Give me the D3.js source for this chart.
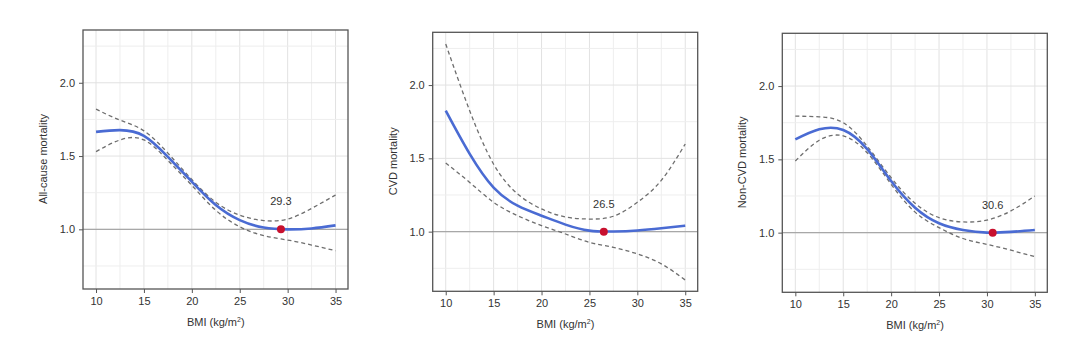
<!DOCTYPE html>
<html><head><meta charset="utf-8">
<script src="https://cdn.jsdelivr.net/npm/d3@7"></script>
<style>body{margin:0;background:#fff;} svg{display:block;}</style>
</head><body>
<svg id="c" width="1080" height="358"></svg>
<script>
const bmi = [10,12.5,15,17.5,20,22.5,25,27.5,30,32.5,35];
const xTicks = [10,15,20,25,30,35];
const yTicks = [1.0,1.5,2.0];
const yTickLabels = ["1.0","1.5","2.0"];
const titles = ["All-cause mortality","CVD mortality","Non-CVD mortality"];
const nadirs = [29.3, 26.5, 30.6];
const nadirLabels = ["29.3","26.5","30.6"];

const allCauseHR    = [1.665,1.677,1.638,1.495,1.325,1.166,1.063,1.012,1.0,1.006,1.027];
const allCauseUpper = [1.82,1.745,1.672,1.52,1.34,1.185,1.097,1.06,1.07,1.143,1.234];
const allCauseLower = [1.53,1.61,1.61,1.47,1.30,1.13,1.018,0.957,0.927,0.893,0.854];

const cvdHR    = [1.825,1.53,1.30,1.177,1.109,1.048,1.007,1.001,1.008,1.023,1.041];
const cvdUpper = [2.28,1.825,1.46,1.257,1.155,1.10,1.086,1.105,1.20,1.35,1.598];
const cvdLower = [1.468,1.336,1.20,1.109,1.041,0.984,0.927,0.893,0.848,0.78,0.67];

const nonCvdHR    = [1.636,1.705,1.70,1.57,1.352,1.17,1.064,1.018,1.0,1.005,1.018];
const nonCvdUpper = [1.795,1.79,1.75,1.59,1.375,1.20,1.102,1.073,1.086,1.148,1.25];
const nonCvdLower = [1.489,1.63,1.66,1.545,1.33,1.14,1.034,0.96,0.92,0.88,0.836];

const panels = [
  {hr: allCauseHR, up: allCauseUpper, lo: allCauseLower, x0: 83, y0: 30},
  {hr: cvdHR, up: cvdUpper, lo: cvdLower, x0: 432.7, y0: 32.3},
  {hr: nonCvdHR, up: nonCvdUpper, lo: nonCvdLower, x0: 782.3, y0: 33.3}
];
const W = 265, H = 259;
const svg = d3.select("#c");
const font = "'Liberation Sans', Arial, sans-serif";

panels.forEach((p, i) => {
  const g = svg.append("g").attr("transform", `translate(${p.x0},${p.y0})`);
  const x = d3.scaleLinear().domain([8.64, 36.3]).range([0, W]);
  const y = d3.scaleLinear().domain([0.593, 2.36]).range([H, 0]);

  // grid
  d3.range(10, 35.01, 2.5).forEach(v => {
    g.append("line").attr("x1", x(v)).attr("x2", x(v)).attr("y1", 0).attr("y2", H)
      .attr("stroke", v % 5 === 0 ? "#e2e2e2" : "#eeeeee").attr("stroke-width", 1);
  });
  d3.range(0.75, 2.251, 0.25).forEach(v => {
    g.append("line").attr("x1", 0).attr("x2", W).attr("y1", y(v)).attr("y2", y(v))
      .attr("stroke", Math.abs(v*2 - Math.round(v*2)) < 1e-6 ? "#e2e2e2" : "#eeeeee").attr("stroke-width", 1);
  });
  // reference line
  g.append("line").attr("x1", 0).attr("x2", W).attr("y1", y(1)).attr("y2", y(1))
    .attr("stroke", "#a8a8a8").attr("stroke-width", 1.3);

  const line = d3.line().x((d, j) => x(bmi[j])).y(d => y(d)).curve(d3.curveNatural);
  [p.up, p.lo].forEach(arr => {
    g.append("path").attr("d", line(arr)).attr("fill", "none")
      .attr("stroke", "#6e6e6e").attr("stroke-width", 1.3).attr("stroke-dasharray", "4,3");
  });
  g.append("path").attr("d", line(p.hr)).attr("fill", "none")
    .attr("stroke", "#4a6bd3").attr("stroke-width", 2.6);

  // nadir point
  g.append("circle").attr("cx", x(nadirs[i])).attr("cy", y(1)).attr("r", 4)
    .attr("fill", "#c8102e");
  g.append("text").attr("x", x(nadirs[i])).attr("y", y(1) - 24)
    .attr("text-anchor", "middle").attr("font-family", font).attr("font-size", 11)
    .attr("fill", "#333").text(nadirLabels[i]);

  // frame
  g.append("rect").attr("x", 0).attr("y", 0).attr("width", W).attr("height", H)
    .attr("fill", "none").attr("stroke", "#555").attr("stroke-width", 1.3);

  // axes
  const xa = g.append("g").attr("transform", `translate(0,${H})`)
    .call(d3.axisBottom(x).tickValues(xTicks).tickSize(4).tickPadding(4).tickFormat(d3.format("d")));
  const ya = g.append("g")
    .call(d3.axisLeft(y).tickValues(yTicks).tickSize(4).tickPadding(4).tickFormat((d, k) => yTickLabels[k]));
  [xa, ya].forEach(a => {
    a.select(".domain").remove();
    a.selectAll("line").attr("stroke", "#555");
    a.selectAll("text").attr("font-family", font).attr("font-size", 11).attr("fill", "#333");
  });

  // x title
  const xt = g.append("text").attr("x", x(22.5)).attr("y", H + 37)
    .attr("text-anchor", "middle").attr("font-family", font).attr("font-size", 11).attr("fill", "#333");
  xt.append("tspan").text("BMI (kg/m");
  xt.append("tspan").attr("font-size", 7).attr("dy", -4).text("2");
  xt.append("tspan").attr("dy", 4).text(")");

  // y title
  g.append("text").attr("transform", `translate(-36,${y(1.48)}) rotate(-90)`)
    .attr("text-anchor", "middle").attr("font-family", font).attr("font-size", 11)
    .attr("fill", "#333").text(titles[i]);
});
</script>
</body></html>
